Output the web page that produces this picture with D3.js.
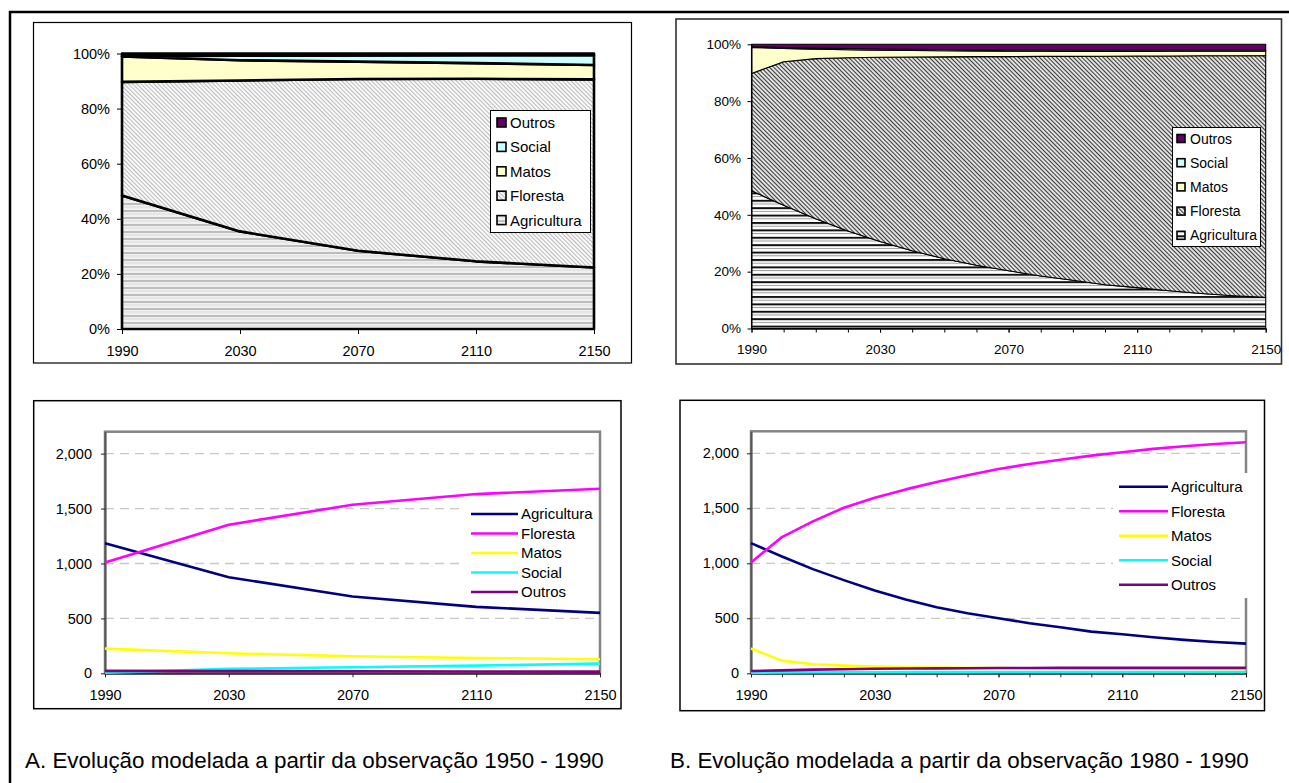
<!DOCTYPE html>
<html><head><meta charset="utf-8">
<script src="https://cdn.jsdelivr.net/npm/d3@7"></script>
<style>
body{margin:0;background:#fff}
svg{display:block}
text{font-family:"Liberation Sans",Arial,sans-serif;fill:#000}
</style>
</head><body>
<svg id="c" width="1289" height="783"></svg>
<script>
// ---------- DATA ----------
const series = ["Agricultura","Floresta","Matos","Social","Outros"];
const legendTop = ["Outros","Social","Matos","Floresta","Agricultura"];

// A: modelled from 1950-1990 observation (40-year steps)
const yearsA = [1990, 2030, 2070, 2110, 2150];
const agriA   = [1185, 875, 699, 605, 550];
const florA   = [1009, 1353, 1535, 1632, 1681];
const matosA  = [225, 182, 155, 140, 128];
const socialA = [5, 40, 55, 70, 88];
const outrosA = [22, 20, 18, 16, 15];

// B: modelled from 1980-1990 observation (10-year steps)
const yearsB = [1990,2000,2010,2020,2030,2040,2050,2060,2070,2080,2090,2100,2110,2120,2130,2140,2150];
const agriB   = [1183,1062,947,847,753,671,601,546,501,455,419,379,355,328,304,285,270];
const florB   = [1008,1238,1381,1505,1595,1672,1739,1800,1857,1903,1942,1979,2009,2040,2064,2085,2100];
const matosB  = [225,115,82,70,61,55,52,49,47,45,44,42,41,40,39,38,37];
const socialB = [5,8,9,10,10,11,11,11,12,12,12,12,12,12,12,12,12];
const outrosB = [21,27,33,37,41,43,45,46,48,48,49,49,49,49,49,49,49];

const labelYears = [1990, 2030, 2070, 2110, 2150];
const pctTicks = [0, 0.2, 0.4, 0.6, 0.8, 1];
const valTicks = [0, 500, 1000, 1500, 2000];
const gridVals = [500, 1000, 1500, 2000];
const captionA = "A. Evolução modelada a partir da observação 1950 - 1990";
const captionB = "B. Evolução modelada a partir da observação 1980 - 1990";

const dataA = {Agricultura:agriA, Floresta:florA, Matos:matosA, Social:socialA, Outros:outrosA};
const dataB = {Agricultura:agriB, Floresta:florB, Matos:matosB, Social:socialB, Outros:outrosB};

const lineColors = {Agricultura:"#000080", Floresta:"#ff00ff", Matos:"#ffff00", Social:"#00ffff", Outros:"#800080"};

// ---------- SETUP ----------
const svg = d3.select("#c");
const defs = svg.append("defs");

function hatch(id, sp, color, w, bg){
  const p = defs.append("pattern").attr("id",id).attr("patternUnits","userSpaceOnUse")
    .attr("width",sp).attr("height",sp).attr("patternTransform","rotate(-45)");
  p.append("rect").attr("width",sp).attr("height",sp).attr("fill",bg);
  p.append("line").attr("x1",sp/2).attr("x2",sp/2).attr("y1",-1).attr("y2",sp+1)
    .attr("stroke",color).attr("stroke-width",w);
}
function stripes(id, period, bg, lines){
  const p = defs.append("pattern").attr("id",id).attr("patternUnits","userSpaceOnUse")
    .attr("width",10).attr("height",period);
  p.append("rect").attr("width",10).attr("height",period).attr("fill",bg);
  lines.forEach(l=>p.append("rect").attr("y",l.y).attr("width",10).attr("height",l.h).attr("fill",l.c));
}
hatch("hA", 3, "#bcbcbc", 1.2, "#ffffff");
hatch("hB", 3, "#3a3a3a", 1.3, "#ffffff");
stripes("sA", 7, "#f0f0f0", [{y:0,h:2,c:"#bdbdbd"},{y:3.5,h:1,c:"#dadada"}]);
stripes("sB", 7.4, "#ffffff", [{y:0,h:2,c:"#111"},{y:3.7,h:1,c:"#9a9a9a"}]);

// outer frame
svg.append("path").attr("d","M10,783 L10,12 L1289,12").attr("fill","none")
  .attr("stroke","#000").attr("stroke-width",2.5);

function styleAxis(g, fs, color){
  g.attr("font-family",null).attr("font-size",fs);
  g.selectAll("text").attr("fill","#000");
  g.selectAll(".tick line").attr("stroke",color||"#000");
}

function percentChart(o){
  const rows = o.years.map((yr,i)=>{const r={year:yr}; series.forEach(s=>r[s]=o.data[s][i]); return r;});
  const stacked = d3.stack().keys(series).offset(d3.stackOffsetExpand)(rows);
  const x = d3.scaleLinear().domain([o.years[0], o.years[o.years.length-1]]).range([o.p.l,o.p.r]);
  const y = d3.scaleLinear().domain([0,1]).range([o.p.b,o.p.t]);
  svg.append("rect").attr("x",o.box.x).attr("y",o.box.y).attr("width",o.box.w).attr("height",o.box.h)
    .attr("fill","#fff").attr("stroke",o.boxStroke).attr("stroke-width",o.boxW);
  const area = d3.area().x(d=>x(d.data.year)).y0(d=>y(d[0])).y1(d=>y(d[1]));
  svg.append("g").selectAll("path").data(stacked).join("path")
    .attr("d",area).attr("fill",d=>o.fills[d.key])
    .attr("stroke","#000").attr("stroke-width",o.sw).attr("stroke-linejoin","round");
  const ya = svg.append("g").attr("transform",`translate(${o.p.l},0)`)
    .call(d3.axisLeft(y).tickValues(pctTicks).tickFormat(d3.format(".0%")).tickSize(o.tick).tickSizeOuter(0).tickPadding(o.ypad));
  styleAxis(ya, o.fs);
  ya.select(".domain").attr("stroke","#000");
  if(o.minor){
    const xm = svg.append("g").attr("transform",`translate(0,${o.p.b})`)
      .call(d3.axisBottom(x).tickValues(o.years).tickFormat("").tickSize(o.tick).tickSizeOuter(0));
    xm.select(".domain").attr("stroke","#000");
    xm.selectAll(".tick line").attr("stroke","#000");
  }
  const xa = svg.append("g").attr("transform",`translate(0,${o.p.b})`)
    .call(d3.axisBottom(x).tickValues(labelYears).tickFormat(d3.format("d")).tickSize(o.tick).tickSizeOuter(0).tickPadding(o.xpad));
  styleAxis(xa, o.fs);
  xa.select(".domain").attr("stroke","#000");
  // legend
  const L = o.leg;
  svg.append("rect").attr("x",L.x).attr("y",L.y).attr("width",L.w).attr("height",L.h)
    .attr("fill","#fff").attr("stroke","#000").attr("stroke-width",1);
  const lg = svg.append("g").selectAll("g").data(legendTop).join("g")
    .attr("transform",(d,i)=>`translate(0,${L.cy0 + i*L.dy})`);
  lg.append("rect").attr("x",L.sx).attr("y",-L.ss/2).attr("width",L.ss).attr("height",L.ss)
    .attr("fill",d=>o.fills[d]).attr("stroke","#000").attr("stroke-width",1.6);
  lg.append("text").attr("x",L.tx).attr("dy","0.36em").attr("font-size",L.fs).text(d=>d);
}

function lineChart(o){
  const x = d3.scaleLinear().domain([o.years[0], o.years[o.years.length-1]]).range([o.p.l,o.p.r]);
  const y = d3.scaleLinear().domain([0,2200]).range([o.p.b,o.p.t]);
  svg.append("rect").attr("x",o.box.x).attr("y",o.box.y).attr("width",o.box.w).attr("height",o.box.h)
    .attr("fill","#fff").attr("stroke","#000").attr("stroke-width",1.5);
  svg.append("g").selectAll("line").data(gridVals).join("line")
    .attr("x1",o.p.l).attr("x2",o.p.r).attr("y1",d=>y(d)).attr("y2",d=>y(d))
    .attr("stroke","#c8c8c8").attr("stroke-width",1.3).attr("stroke-dasharray","9,6");
  svg.append("rect").attr("x",o.p.l).attr("y",o.p.t).attr("width",o.p.r-o.p.l).attr("height",o.p.b-o.p.t)
    .attr("fill","none").attr("stroke","#858585").attr("stroke-width",2.5);
  const ya = svg.append("g").attr("transform",`translate(${o.p.l},0)`)
    .call(d3.axisLeft(y).tickValues(valTicks).tickFormat(d3.format(",")).tickSize(4).tickSizeOuter(0).tickPadding(o.ypad));
  styleAxis(ya, o.fs, "#222");
  ya.select(".domain").attr("stroke","#555").attr("stroke-width",2);
  if(o.minor){
    const xm = svg.append("g").attr("transform",`translate(0,${o.p.b})`)
      .call(d3.axisBottom(x).tickValues(o.years).tickFormat("").tickSize(4).tickSizeOuter(0));
    xm.selectAll(".tick line").attr("stroke","#222");
    xm.select(".domain").attr("stroke","none");
  }
  const xa = svg.append("g").attr("transform",`translate(0,${o.p.b})`)
    .call(d3.axisBottom(x).tickValues(labelYears).tickFormat(d3.format("d")).tickSize(4).tickSizeOuter(0).tickPadding(12));
  styleAxis(xa, o.fs, "#222");
  xa.select(".domain").attr("stroke","#333").attr("stroke-width",2);
  const L = o.leg;
  svg.append("rect").attr("x",L.x).attr("y",L.y).attr("width",L.w).attr("height",L.h).attr("fill","#fff");
  const line = d3.line().x((d,i)=>x(o.years[i])).y(d=>y(d));
  svg.append("g").selectAll("path").data(series).join("path")
    .attr("d",s=>line(o.data[s])).attr("fill","none").attr("stroke",s=>lineColors[s])
    .attr("stroke-width",2.6).attr("stroke-linejoin","round");
  const lg = svg.append("g").selectAll("g").data(series).join("g")
    .attr("transform",(d,i)=>`translate(0,${L.cy0 + i*L.dy})`);
  lg.append("line").attr("x1",L.lx1).attr("x2",L.lx2).attr("stroke",d=>lineColors[d]).attr("stroke-width",2.6);
  lg.append("text").attr("x",L.tx).attr("dy","0.36em").attr("font-size",L.fs).text(d=>d);
}

// ---------- TOP LEFT (A, %) ----------
percentChart({
  years: yearsA, data: dataA,
  box:{x:33.5,y:22.5,w:598,h:340.5}, boxStroke:"#000", boxW:1.2,
  p:{l:122,r:594,t:53.5,b:329},
  fills:{Agricultura:"url(#sA)",Floresta:"url(#hA)",Matos:"#ffffcc",Social:"#ccffff",Outros:"#660066"},
  sw:2.6, tick:5, ypad:7, xpad:12, fs:14.5, minor:false,
  leg:{x:490.5,y:110.5,w:100,h:122,cy0:122.5,dy:24.4,sx:497,ss:9,tx:510,fs:15}
});

// ---------- TOP RIGHT (B, %) ----------
percentChart({
  years: yearsB, data: dataB,
  box:{x:676,y:19,w:605.5,h:345}, boxStroke:"#333", boxW:1.6,
  p:{l:751.5,r:1265.7,t:44.3,b:328.5},
  fills:{Agricultura:"url(#sB)",Floresta:"url(#hB)",Matos:"#ffffcc",Social:"#ccffff",Outros:"#660066"},
  sw:1.1, tick:4, ypad:6.5, xpad:12, fs:13.5, minor:true,
  leg:{x:1172.5,y:127.5,w:88,h:119,cy0:138.5,dy:24.2,sx:1177,ss:8,tx:1190,fs:14}
});

// ---------- BOTTOM LEFT (A, values) ----------
lineChart({
  years: yearsA, data: dataA,
  box:{x:33.7,y:400.7,w:587.3,h:308},
  p:{l:105,r:600,t:431.7,b:673.3},
  ypad:9, fs:14.5, minor:false,
  leg:{x:462,y:503,w:135,h:99,cy0:514,dy:19.5,lx1:471,lx2:518,tx:521,fs:15}
});

// ---------- BOTTOM RIGHT (B, values) ----------
lineChart({
  years: yearsB, data: dataB,
  box:{x:680,y:400.3,w:584.5,h:310.4},
  p:{l:751,r:1246,t:431.3,b:673.3},
  ypad:8, fs:14.5, minor:true,
  leg:{x:1113,y:473,w:138,h:125,cy0:486.7,dy:24.5,lx1:1119,lx2:1168,tx:1171,fs:15}
});

// captions
svg.append("text").attr("x",25).attr("y",768).attr("font-size",22.4).text(captionA);
svg.append("text").attr("x",670).attr("y",768).attr("font-size",22.4).text(captionB);
</script>
</body></html>
